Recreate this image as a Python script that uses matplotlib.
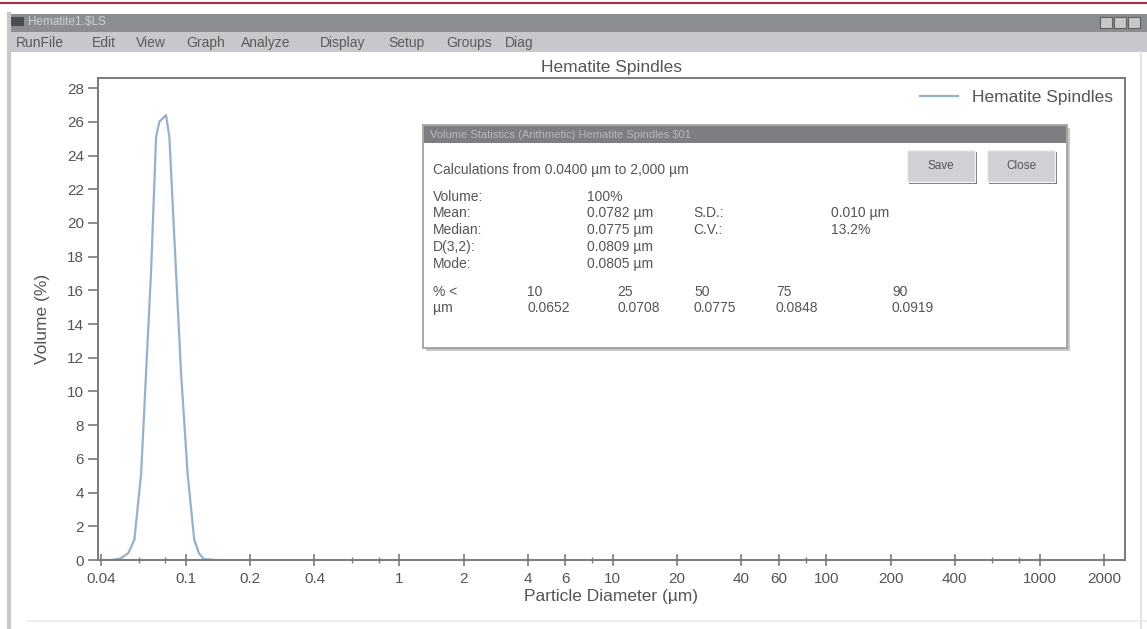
import numpy as np
import matplotlib
matplotlib.use('Agg')
import matplotlib.pyplot as plt
from matplotlib.patches import Rectangle

plt.rcParams['font.family'] = ['Liberation Sans', 'DejaVu Sans']

# particle size distribution
diameter_um = [0.040, 0.045, 0.0495, 0.0536, 0.0573, 0.0616, 0.0650, 0.0686,
               0.0724, 0.0750, 0.0806, 0.0836, 0.0898, 0.0948, 0.1018,
               0.1093, 0.1150, 0.1214, 0.138]
volume_pct = [0.0, 0.0, 0.1, 0.4, 1.2, 5.1, 11.1, 17.1,
              25.1, 26.0, 26.4, 25.1, 17.1, 11.1, 5.1,
              1.2, 0.4, 0.05, 0.0]

x_major = [0.04, 0.1, 0.2, 0.4, 1, 2, 4, 6, 10, 20, 40, 60, 100, 200, 400, 1000, 2000]
x_major_labels = ['0.04', '0.1', '0.2', '0.4', '1', '2', '4', '6', '10', '20',
                  '40', '60', '100', '200', '400', '1000', '2000']
x_minor = [0.06, 0.08, 0.6, 0.8, 8, 80, 600, 800]
y_ticks = list(range(0, 29, 2))

menu_items = ['RunFile', 'Edit', 'View', 'Graph', 'Analyze', 'Display', 'Setup', 'Groups', 'Diag']
menu_x = [16, 92, 136, 186, 241, 320, 388, 446, 505]

stat_rows = ['Volume:', 'Mean:', 'Median:', 'D(3,2):', 'Mode:']
stat_vals = ['100%', '0.0782 \u00b5m', '0.0775 \u00b5m', '0.0809 \u00b5m', '0.0805 \u00b5m']
spread_labels = ['S.D.:', 'C.V.:']
spread_vals = ['0.010 \u00b5m', '13.2%']
pct_under = ['10', '25', '50', '75', '90']
pct_size = ['0.0652', '0.0708', '0.0775', '0.0848', '0.0919']

W, H = 1147, 629
TXT = '#555555'
AXC = '#7a7a7a'
LINE = '#94b2cf'

fig = plt.figure(figsize=(W / 100, H / 100), dpi=100)
fig.patch.set_facecolor('white')


def frac(x0, y0, x1, y1):
    # pixel box (top-left origin) -> figure fraction rect
    return [x0 / W, 1 - y1 / H, (x1 - x0) / W, (y1 - y0) / H]


ax = fig.add_axes(frac(98, 78, 1125, 560))
ax.plot(diameter_um, volume_pct, color=LINE, lw=1.6, label='Hematite Spindles')
ax.set_xscale('log')
ax.set_xlim(0.0387, 2510)
ax.set_ylim(0, 28.6)
ax.set_xticks(x_major)
ax.set_xticklabels(x_major_labels)
ax.set_xticks(x_minor, minor=True)
ax.set_xticklabels([], minor=True)
ax.set_yticks(y_ticks)
ax.tick_params(axis='x', which='major', direction='inout', length=9, width=1.2,
               color=AXC, labelcolor=TXT, labelsize=11, pad=4)
ax.tick_params(axis='x', which='minor', direction='inout', length=4, width=1.0, color=AXC)
ax.tick_params(axis='y', direction='out', length=7, width=1.2, color=AXC,
               labelcolor=TXT, labelsize=11, pad=3)
for s in ax.spines.values():
    s.set_color(AXC)
    s.set_linewidth(1.4)
ax.set_xlabel('Particle Diameter (\u00b5m)', fontsize=12.5, color=TXT, labelpad=2)
ax.set_ylabel('Volume (%)', fontsize=12.5, color=TXT, labelpad=12)
ax.set_title('Hematite Spindles', fontsize=12.5, color=TXT, pad=4)
ax.legend(loc='upper right', bbox_to_anchor=(1.0, 1.0), frameon=False, fontsize=12.5,
          handlelength=2.2, labelcolor=TXT, borderaxespad=0.3)

# window chrome and stats dialog drawn in pixel space on an overlay
ov = fig.add_axes([0, 0, 1, 1], zorder=5)
ov.set_xlim(0, W)
ov.set_ylim(H, 0)
ov.axis('off')
ov.patch.set_alpha(0)

ov.plot([0, W], [3, 3], color='#b8283c', lw=1.5)
ov.add_patch(Rectangle((8, 14), W - 8, 18, facecolor='#8b8d90', edgecolor='none'))
ov.add_patch(Rectangle((8, 32), W - 8, 20, facecolor='#c9c7cc', edgecolor='none'))
ov.add_patch(Rectangle((10, 17), 14, 9, facecolor='#4a4c55', edgecolor='none'))
ov.text(28, 22, 'Hematite1.$LS', fontsize=8.5, color='#d0d0dc', va='center')
for bx in [1100, 1114, 1128]:
    ov.add_patch(Rectangle((bx, 17), 12, 11, facecolor='#c8c8cc', edgecolor='#606060', lw=0.8))
for name, mx in zip(menu_items, menu_x):
    ov.text(mx, 43, name, fontsize=10, color='#5a5a5a', va='center')
ov.plot([9, 9], [14, 628], color='#c8c8c8', lw=3)
ov.plot([1141, 1141], [52, 628], color='#e2e2e2', lw=1.5)
ov.plot([28, W], [621, 621], color='#ececec', lw=1.5)

# stats dialog
ov.add_patch(Rectangle((426, 128), 644, 223, facecolor='#c8c8c8', edgecolor='none'))
ov.add_patch(Rectangle((423, 125), 644, 223, facecolor='white', edgecolor='#9a9a9a', lw=1.2))
ov.add_patch(Rectangle((424, 126), 642, 17, facecolor='#7c7e82', edgecolor='none'))
ov.text(430, 134.5, 'Volume Statistics (Arithmetic) Hematite Spindles $01', fontsize=8,
        color='#b8b8c4', va='center')
for x0, lab in [(907, 'Save'), (987, 'Close')]:
    ov.add_patch(Rectangle((x0 + 2, 152), 68, 32, facecolor='#6a6a6a', edgecolor='none'))
    ov.add_patch(Rectangle((x0, 150), 68, 32, facecolor='#d2d0d4', edgecolor='#f4f4f4', lw=1))
    ov.text(x0 + 34, 166, lab, fontsize=8.5, color='#555555', ha='center', va='center')

ov.text(433, 170, 'Calculations from 0.0400 \u00b5m to 2,000 \u00b5m', fontsize=10,
        color=TXT, va='center')
row_y = [197, 213, 230, 247, 264]
for ry, lab, val in zip(row_y, stat_rows, stat_vals):
    ov.text(433, ry, lab, fontsize=10, color=TXT, va='center')
    ov.text(587, ry, val, fontsize=10, color=TXT, va='center')
for ry, lab, val in zip(row_y[1:3], spread_labels, spread_vals):
    ov.text(693, ry, lab, fontsize=10, color=TXT, va='center')
    ov.text(831, ry, val, fontsize=10, color=TXT, va='center')
ov.text(433, 292, '% <', fontsize=10, color=TXT, va='center')
ov.text(433, 308, '\u00b5m', fontsize=10, color=TXT, va='center')
for cx, p, d in zip([527, 617, 694, 776, 892], pct_under, pct_size):
    ov.text(cx, 292, p, fontsize=10, color=TXT, va='center')
    ov.text(cx, 308, d, fontsize=10, color=TXT, va='center')

fig.savefig('out.png', dpi=100)
